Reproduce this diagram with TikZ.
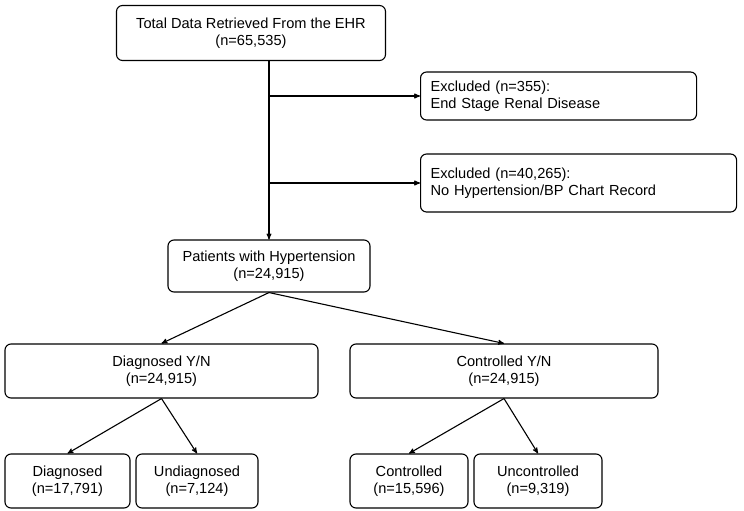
\documentclass[tikz,border=0pt]{standalone}
\usepackage{fontspec}
\setmainfont{Liberation Sans}
\usetikzlibrary{arrows}
\tikzset{
    box/.style={draw, rounded corners=6pt, line width=1.1pt, align=center, font=\fontsize{14.6}{17}\selectfont, inner sep=2pt},
    exclbox/.style={box, align=left, anchor=west, text width=#1, inner xsep=10pt}
}

\begin{document}
\begin{tikzpicture}[x=1pt, y=-1pt, ->, >=stealth', line width=1.1pt]
        \useasboundingbox (0,0) rectangle (744,511);
        \node[box, minimum width=269pt, minimum height=55pt] (total) at (251,33) {Total Data Retrieved From the EHR\\(n=65,535)};
        \node[exclbox=256pt, minimum height=48pt] (ex1) at (420,96) {Excluded (n=355):\\End Stage Renal Disease};
        \node[exclbox=296pt, minimum height=58pt] (ex2) at (420,183) {Excluded (n=40,265):\\No Hypertension/BP Chart Record};
        \node[box, minimum width=202pt, minimum height=52pt] (htn) at (269,266) {Patients with Hypertension\\(n=24,915)};
        \node[box, minimum width=313pt, minimum height=54pt] (diag) at (161.5,371) {Diagnosed Y/N\\(n=24,915)};
        \node[box, minimum width=308pt, minimum height=54pt] (ctrl) at (504,371) {Controlled Y/N\\(n=24,915)};
        \node[box, minimum width=125pt, minimum height=54pt] (dy) at (67.5,481) {Diagnosed\\(n=17,791)};
        \node[box, minimum width=122pt, minimum height=54pt] (dn) at (197,481) {Undiagnosed\\(n=7,124)};
        \node[box, minimum width=118pt, minimum height=54pt] (cy) at (409,481) {Controlled\\(n=15,596)};
        \node[box, minimum width=128pt, minimum height=54pt] (cn) at (538,481) {Uncontrolled\\(n=9,319)};

        \coordinate (j1) at (269,96);
        \coordinate (j2) at (269,183);
        \draw (total.south -| htn.north) -- (htn.north);
        \draw (j1) -- (ex1.west);
        \draw (j2) -- (ex2.west);
        \draw (htn.south) -- (diag.north);
        \draw (htn.south) -- (ctrl.north);
        \draw (diag.south) -- (dy.north);
        \draw (diag.south) -- (dn.north);
        \draw (ctrl.south) -- (cy.north);
        \draw (ctrl.south) -- (cn.north);
    \end{tikzpicture}
\end{document}
